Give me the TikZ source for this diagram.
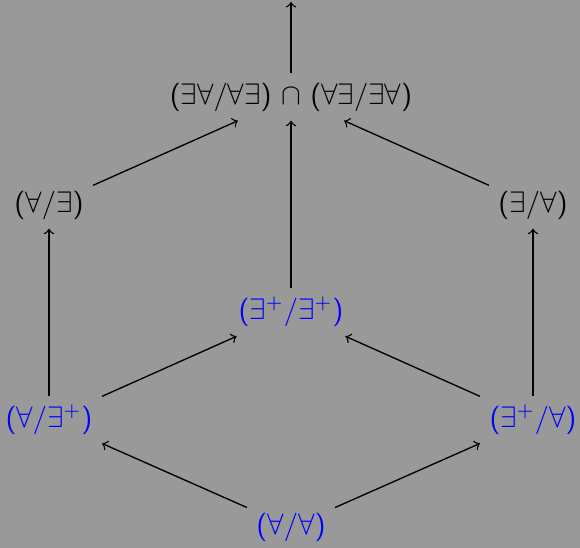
\documentclass[tikz,border=0pt]{standalone}
\usepackage{amssymb}
\definecolor{bggray}{RGB}{153,153,153}
\begin{document}
\begin{tikzpicture}[x=0.3704pt,y=-0.3704pt,
  lab/.style={font=\sffamily\fontsize{10.5}{12.6}\selectfont, text=black},
  bluelab/.style={font=\sffamily\fontsize{10.5}{12.6}\selectfont, text=blue},
  arr/.style={->, >=to, line width=0.5pt}]
\fill[bggray] (0,0) rectangle (580,548);
\useasboundingbox (0,0) rectangle (580,548);
\node[lab] (top) at (291,97) {($\exists\forall$/$\forall\exists$) $\cap$ ($\forall\exists$/$\exists\forall$)};
\node[lab] (ae) at (49,205) {($\forall$/$\exists$)};
\node[lab] (ea) at (533,205) {($\exists$/$\forall$)};
\node[bluelab] (epep) at (291,312) {($\exists^{+}$/$\exists^{+}$)};
\node[bluelab] (aep) at (49,420) {($\forall$/$\exists^{+}$)};
\node[bluelab] (epa) at (533,420) {($\exists^{+}$/$\forall$)};
\node[bluelab] (aa) at (291,527) {($\forall$/$\forall$)};
\coordinate (topend) at (291,2);
\draw[arr] (aa) -- (aep);
\draw[arr] (aa) -- (epa);
\draw[arr] (aep) -- (epep);
\draw[arr] (epa) -- (epep);
\draw[arr] (aep) -- (ae);
\draw[arr] (epa) -- (ea);
\draw[arr] (epep) -- (top);
\draw[arr] (ae) -- (top);
\draw[arr] (ea) -- (top);
\draw[arr] (top) -- (topend);
\end{tikzpicture}
\end{document}
